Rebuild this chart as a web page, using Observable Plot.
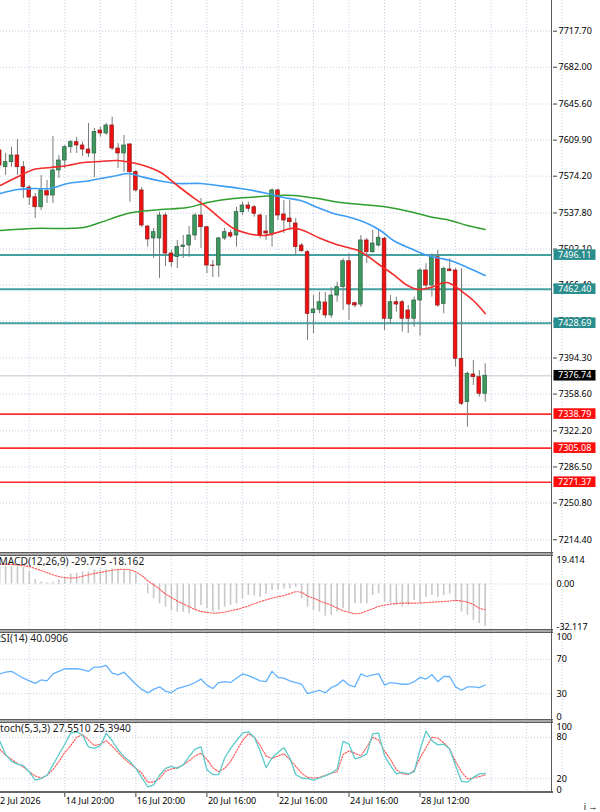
<!DOCTYPE html>
<html>
<head>
<meta charset="utf-8">
<script src="https://cdn.jsdelivr.net/npm/d3@7"></script>
<script src="https://cdn.jsdelivr.net/npm/@observablehq/plot@0.6"></script>
<style>
  html, body { margin: 0; padding: 0; background: #fff; }
  #chart { position: relative; width: 600px; height: 812px; overflow: hidden; background: #fff;
           font-family: 'Noto Sans', 'Liberation Sans', sans-serif; }
  #chart > svg { position: absolute; left: 0; }
  .sep { position: absolute; left: 0; width: 553px; box-sizing: border-box;
         border-top: 1px solid #5c5c5c; border-bottom: 1px solid #5c5c5c; background: #a9a9a9; }
</style>
</head>
<body>
<div id="chart"></div>
<script>
// ---- 4H price bars (open, high, low, close) ----
const open  = [7599.6,7583.1,7588.1,7594.7,7583.1,7563.0,7553.4,7543.5,7559.4,7555.1,
               7579.9,7589.7,7602.9,7607.9,7604.6,7600.6,7596.7,7619.4,7616.5,7624.4,
               7601.6,7596.7,7605.6,7578.2,7560.1,7524.4,7512.6,7512.6,7535.3,7497.7,
               7494.1,7504.0,7505.6,7515.5,7535.3,7523.7,7485.8,7485.8,7512.6,7517.8,
               7515.5,7538.6,7545.2,7543.5,7535.3,7519.5,7517.2,7560.1,7536.3,7532.3,
               7527.4,7505.6,7499.0,7438.6,7442.0,7449.2,7436.4,7456.1,7464.4,7490.1,
               7448.5,7447.2,7510.6,7499.0,7505.6,7512.3,7433.1,7449.5,7449.5,7441.3,
               7433.1,7451.2,7480.9,7466.0,7494.0,7447.9,7481.9,7480.9,7393.5,7350.6,
               7378.0,7375.3,7358.9];
const high  = [7601.6,7596.7,7602.9,7610.5,7588.7,7565.0,7557.1,7574.9,7570.0,7613.5,
               7594.7,7604.6,7609.5,7612.5,7607.9,7626.4,7621.4,7622.7,7626.4,7632.6,
               7606.6,7614.5,7606.6,7579.9,7563.0,7525.4,7522.5,7538.6,7537.6,7500.7,
               7510.6,7515.5,7524.4,7537.3,7552.1,7524.4,7490.8,7513.8,7522.5,7520.5,
               7543.5,7548.5,7548.5,7545.2,7537.0,7535.3,7561.7,7561.7,7550.2,7550.2,
               7532.3,7507.6,7500.7,7456.1,7459.4,7459.1,7464.0,7469.3,7492.5,7497.4,
               7449.5,7515.5,7512.6,7520.5,7520.5,7513.8,7456.1,7454.4,7451.2,7446.2,
               7454.5,7482.6,7487.5,7497.4,7500.7,7484.2,7492.5,7482.6,7482.6,7380.3,
               7391.8,7381.9,7388.6];
const low   = [7581.8,7574.9,7583.1,7574.9,7552.1,7545.2,7532.3,7540.3,7547.2,7547.2,
               7571.9,7581.8,7596.7,7596.7,7593.7,7592.7,7572.9,7612.8,7614.5,7599.6,
               7581.8,7578.2,7548.5,7558.4,7523.7,7504.0,7492.8,7473.0,7484.8,7484.2,
               7482.9,7492.8,7493.8,7510.6,7502.7,7477.9,7474.0,7474.0,7510.6,7512.6,
               7504.0,7535.3,7538.6,7533.6,7512.3,7510.6,7504.0,7530.4,7517.5,7520.5,
               7495.7,7499.0,7411.6,7418.6,7438.0,7433.4,7433.4,7449.5,7441.3,7431.4,
               7444.0,7444.3,7487.8,7498.0,7504.0,7421.6,7428.0,7439.6,7420.0,7418.6,
               7424.6,7416.0,7462.8,7454.5,7444.6,7438.0,7479.6,7385.2,7347.3,7325.8,
               7367.1,7355.5,7350.6];
const close = [7584.8,7588.1,7594.7,7583.1,7563.3,7553.1,7543.5,7560.1,7555.1,7579.9,
               7589.7,7602.9,7607.9,7604.6,7600.6,7596.7,7617.8,7616.5,7624.4,7601.6,
               7596.7,7604.6,7578.2,7560.1,7525.4,7511.6,7518.8,7535.3,7497.7,7489.1,
               7504.0,7505.6,7515.5,7535.3,7523.7,7485.8,7485.3,7512.6,7518.8,7514.5,
               7538.6,7545.2,7542.0,7537.0,7515.5,7517.5,7560.1,7535.3,7530.4,7528.7,
               7504.0,7500.0,7438.0,7442.3,7449.5,7436.4,7456.1,7464.4,7490.1,7447.2,
               7446.3,7510.6,7499.0,7507.6,7513.3,7433.1,7449.5,7447.2,7433.1,7433.1,
               7451.2,7480.9,7466.0,7494.0,7446.2,7482.6,7480.2,7393.5,7349.0,7378.7,
               7375.3,7358.9,7376.74];

// ---- moving averages (bar index, price) ----
const maRedIdx   = [0.1,3.5,5.7,8.6,11.5,14.2,17,19.9,22.1,24.3,27.2,30,32.7,35.1,37.3,39.5,41.9,44.6,46.9,49.1,50.8,54.2,56.4,58.1,60.9,64.3,66.5,68.9,70.6,72.8,74.5,75.6,76.7,78.3,80,82];
const maRedVal   = [7565.0,7574.9,7580.8,7582.8,7584.8,7587.8,7588.8,7589.7,7587.8,7584.8,7577.9,7565.0,7553.1,7543.2,7532.3,7522.5,7517.5,7515.5,7518.5,7522.5,7521.5,7512.5,7507.6,7504.6,7499.7,7485.8,7476.9,7466.0,7462.1,7464.0,7468.0,7469.0,7466.0,7459.1,7451.2,7438.3];
const maBlueIdx  = [0.1,3,5.7,8.6,11.5,14.2,17,19.9,21.8,23.8,26.7,30,33.9,36.8,40.7,45.2,47.9,50.8,53.7,56.4,59.2,62.1,64.3,66.5,69.4,72.3,74.5,76.1,79,82];
const maBlueVal  = [7557.1,7561.0,7562.0,7562.0,7567.0,7568.9,7571.9,7574.9,7576.9,7573.9,7570.0,7567.0,7567.0,7565.0,7562.0,7557.1,7553.1,7550.2,7543.2,7537.3,7533.3,7527.4,7520.5,7510.6,7502.7,7495.7,7492.8,7490.8,7483.9,7475.9];
const maGreenIdx = [0.1,5.7,11.5,14.2,17,19.9,21.6,23.8,27.2,31.7,35.1,39.5,44,46.9,49.6,53.7,56.4,59.2,64.8,67.7,70.6,73.3,76.1,79,82];
const maGreenVal = [7520.5,7522.5,7522.5,7523.4,7528.4,7534.3,7537.3,7539.3,7541.2,7543.2,7548.2,7552.1,7554.1,7555.1,7555.1,7552.1,7549.2,7547.2,7544.2,7541.2,7537.3,7533.3,7530.4,7525.4,7521.5];

// ---- horizontal levels ----
const resistance = [7496.11, 7462.40, 7428.69];
const support    = [7338.79, 7305.08, 7271.37];
const lastPrice  = close[close.length - 1];

// ---- indicators, one value per bar ----
const macd = [12,12.5,12,12,11.5,9,3,1.5,0.8,1.2,2.8,5,7,7.5,8.5,8.5,10,9.8,10.1,10.8,
              10.2,10,9.5,7,0,-7,-10.5,-14,-16.3,-18.6,-19.8,-20,-21,-18.6,-15.1,-17.4,-19.8,-18.6,-16.3,-15.1,
              -14,-10.5,-8.1,-8.5,-9.3,-7,-4.7,-4.2,-3.5,-3.5,-2.3,-10.5,-16.3,-18.6,-19.8,-22.8,-22.1,-19.8,-17.4,-19.8,
              -14,-14,-14,-8.1,-7,-12.8,-14,-15.1,-16.3,-15.1,-11.6,-14,-9.3,-8.1,-9.3,-8.1,-7,-12.8,-19.8,-22.1,
              -25.6,-27.9,-29.775];
const macdSignal = [14,14,13.8,13.4,12.9,12.3,11,9.5,8,6.5,5.3,4.5,4.2,4.5,5.5,6.5,7.5,8.1,9,9.7,
              10.2,10.4,10,8.5,6,2.3,-0.5,-3.5,-7,-9.5,-12,-14,-16,-18,-19.3,-20,-20.5,-20.4,-19.8,-18.9,
              -18,-16.8,-15.5,-14,-12.5,-11.2,-10,-9,-8.1,-6.8,-5.5,-6,-8.5,-10,-11.8,-13.5,-15,-17,-18.8,-20,
              -21,-20.5,-19,-17.5,-15.8,-15,-14.3,-13.7,-13.5,-13.5,-13.5,-13.4,-13.1,-12.8,-12.6,-12.4,-12,-11.6,-12,-12.8,
              -14.5,-17,-18.162];
const macdMax = 19.414, macdMin = -32.117;

const rsi = [53,55,56,52,48,45,42,46,45,53,56,59,59,59,58,56,61,61,63,54,
             52,55,48,41,35,31,35,38,33,31,36,38,40,43,47,40,36,43,44,43,
             48,53,51,48,45,44,56,49,48,45,43,41,30,32,34,31,37,40,46,40,
             38,53,50,52,53,40,43,42,41,41,44,49,47,52,44,50,50,38,34,38,
             38,37,40.0906];

const stochK = [75,55,45,41,39,30,18,20,25,40,55,70,86,88,83,66,64,68,86,75,
                62,52,45,35,22,8,11,25,35,38,35,40,52,63,66,33,26,26,50,64,
                75,86,88,80,60,36,50,58,65,50,26,21,20,18,21,24,28,34,74,70,
                49,51,56,85,86,53,39,27,29,27,30,62,89,75,69,70,63,39,16,15,
                22,27,27.551];
const stochD = [63,54,48,42,37,30,24,21,25,33,45,58,68,80,84,76,68,70,75,67,
                58,49,42,35,28,15,15,20,31,34,36,40,46,53,57,48,36,30,35,45,
                60,75,85,80,68,53,49,53,56,48,38,28,22,21,22,25,28,30,55,60,
                57,53,66,80,76,60,48,33,27,26,32,50,65,80,79,72,63,45,30,20,
                21,23,25.394];

// ---- axis labels ----
const priceTicks = [7717.70,7682.00,7645.60,7609.90,7574.20,7537.80,7502.10,7466.40,
                    7430.70,7394.30,7358.60,7322.20,7286.50,7250.80,7214.40];
const dateIdx    = [-1, 11, 23, 35, 47, 59, 71];
const dateLabels = ["12 Jul 2026","14 Jul 20:00","16 Jul 20:00","20 Jul 16:00",
                    "22 Jul 16:00","24 Jul 16:00","28 Jul 12:00"];

// ---- layout ----
const W = 600, FRAME_RIGHT = 552;
const barStep = 5.921, firstBarX = -0.83;
const xDomain = [(0 - firstBarX) / barStep, (FRAME_RIGHT - firstBarX) / barStep];
const gridIdx = d3.range(-1, 96, 6);
const GRID = "#c3cfe2";
const DOT = "1,2";
const FONT = "'Noto Sans', 'Liberation Sans', sans-serif";
const style = {fontFamily: FONT, fontSize: "9px", color: "#000", background: "transparent", overflow: "visible"};
const TITLE_SIZE = 10.2;

const candles = open.map((o, i) => ({i, o, h: high[i], l: low[i], c: close[i]}));
const up = candles.filter(d => d.c > d.o);
const down = candles.filter(d => d.c <= d.o);
const pts = (idx, val) => idx.map((i, k) => ({i, v: val[k]}));
const series = arr => arr.map((v, i) => ({i, v}));

const base = {width: W, marginLeft: 0, marginRight: W - FRAME_RIGHT, marginTop: 0, marginBottom: 0, style};
const xOpt = {domain: xDomain, axis: null};
const vGrid = () => Plot.ruleX(gridIdx, {stroke: GRID, strokeDasharray: DOT});

// coloured price tags in the right margin
function priceTags(tags) {
  return (index, scales, values, dimensions) => {
    const g = d3.create("svg:g").attr("text-anchor", "start");
    const x0 = dimensions.width - dimensions.marginRight;
    for (const t of tags) {
      const y = scales.y(t.value);
      g.append("rect").attr("x", x0 + 1.5).attr("y", y - 5.3).attr("width", 42).attr("height", 10.6).attr("fill", t.fill);
      g.append("text").attr("x", x0 + 6).attr("y", y).attr("dy", "0.35em").attr("text-anchor", "start")
        .attr("fill", "#fff").attr("font-size", 9).attr("font-family", FONT).text(t.value.toFixed(2));
    }
    return g.node();
  };
}

// value labels on the right edge of an indicator window
function edgeLabels(items) {
  return items.map(([v, txt, anchor]) =>
    Plot.text([v], {y: d => d, text: () => txt, frameAnchor: "right", dx: 4, textAnchor: "start",
                    lineAnchor: anchor, fill: "#000"}));
}

// indicator name and latest values in the window's top-left corner
function title(txt, dx, dy) {
  return Plot.text([txt], {frameAnchor: "top-left", dx, dy, lineAnchor: "top", textAnchor: "start",
                           fill: "#1a1a1a", fontSize: TITLE_SIZE});
}

const chart = document.getElementById("chart");
function place(node, top) { node.style.top = top + "px"; chart.appendChild(node); }

try {
  // main price window
  const main = Plot.plot({
    ...base, height: 552,
    x: xOpt,
    y: {domain: [7201.81, 7748.08], axis: null},
    marks: [
      vGrid(),
      Plot.ruleY(priceTicks, {stroke: GRID, strokeDasharray: DOT}),
      Plot.ruleY([lastPrice], {stroke: "#d3d9e1", strokeWidth: 1.6}),
      Plot.ruleY(resistance, {stroke: "#43a1a1", strokeWidth: 2}),
      Plot.ruleY(support, {stroke: "#ff2b2b", strokeWidth: 1.6}),
      Plot.ruleX(candles, {x: "i", y1: "l", y2: "h", stroke: "#7a7a7a", strokeWidth: 1}),
      Plot.rect(up, {x1: d => d.i - 0.31, x2: d => d.i + 0.31, y1: "o", y2: "c", fill: "#3c9a60", stroke: "#2b5e3d", strokeWidth: 0.7}),
      Plot.rect(down, {x1: d => d.i - 0.31, x2: d => d.i + 0.31, y1: "o", y2: "c", fill: "#f01010", stroke: "#8a1c1c", strokeWidth: 0.7}),
      Plot.line(pts(maGreenIdx, maGreenVal), {x: "i", y: "v", stroke: "#2f9e2f", strokeWidth: 1.5, curve: "catmull-rom"}),
      Plot.line(pts(maBlueIdx, maBlueVal), {x: "i", y: "v", stroke: "#3d9df5", strokeWidth: 1.6, curve: "catmull-rom"}),
      Plot.line(pts(maRedIdx, maRedVal), {x: "i", y: "v", stroke: "#f52a2a", strokeWidth: 1.6, curve: "catmull-rom"}),
      Plot.axisY({anchor: "right", ticks: priceTicks, tickFormat: d => d.toFixed(2), tickSize: 4, tickPadding: 2,
                  stroke: "#404040", fill: "#000"}),
      priceTags([
        ...resistance.map(value => ({value, fill: "#2a8d8d"})),
        {value: lastPrice, fill: "#000"},
        ...support.map(value => ({value, fill: "#ff0d0d"}))
      ])
    ]
  });
  place(main, 0);

  // MACD window
  const macdPlot = Plot.plot({
    ...base, height: 73,
    x: xOpt,
    y: {domain: [macdMin, macdMax], axis: null},
    marks: [
      vGrid(),
      Plot.ruleY([0], {stroke: GRID, strokeDasharray: DOT}),
      Plot.ruleX(series(macd), {x: "i", y1: 0, y2: "v", stroke: "#c8c8c8", strokeWidth: 1.6}),
      Plot.line(series(macdSignal), {x: "i", y: "v", stroke: "#ff5252", strokeWidth: 1.1, strokeDasharray: "1.5,1.5", curve: "catmull-rom"}),
      title(`MACD(12,26,9) ${macd.at(-1).toFixed(3)} ${macdSignal.at(-1).toFixed(3)}`, -2, 1.5),
      ...edgeLabels([[macdMax, macdMax.toFixed(3), "top"], [0, "0.00", "middle"], [macdMin, macdMin.toFixed(3), "bottom"]])
    ]
  });
  place(macdPlot, 556);

  // RSI window
  const rsiPlot = Plot.plot({
    ...base, height: 86,
    x: xOpt,
    y: {domain: [0, 100], axis: null},
    marks: [
      vGrid(),
      Plot.ruleY([70, 30], {stroke: GRID, strokeDasharray: DOT}),
      Plot.line(series(rsi), {x: "i", y: "v", stroke: "#62b1ff", strokeWidth: 1.3}),
      title(`RSI(14) ${rsi.at(-1).toFixed(4)}`, -6, 1.5),
      ...edgeLabels([[100, "100", "top"], [70, "70", "middle"], [30, "30", "middle"], [0, "0", "bottom"]])
    ]
  });
  place(rsiPlot, 633);

  // Stochastic window with the time axis
  const dateTicks = dateIdx.map((i, k) => ({i, label: dateLabels[k]}));
  const stochPlot = Plot.plot({
    ...base, height: 89, marginBottom: 20,
    x: xOpt,
    y: {domain: [0, 100], axis: null},
    marks: [
      vGrid(),
      Plot.ruleY([80, 20], {stroke: GRID, strokeDasharray: DOT}),
      Plot.line(series(stochD), {x: "i", y: "v", stroke: "#ff5252", strokeWidth: 1.1, strokeDasharray: "1.5,1.5"}),
      Plot.line(series(stochK), {x: "i", y: "v", stroke: "#5ccaca", strokeWidth: 1.3}),
      title(`Stoch(5,3,3) ${stochK.at(-1).toFixed(4)} ${stochD.at(-1).toFixed(4)}`, -6, 1.5),
      ...edgeLabels([[100, "100", "top"], [80, "80", "middle"], [20, "20", "middle"], [0, "0", "bottom"]]),
      Plot.axisX({ticks: dateIdx, tickFormat: () => "", tickSize: 5, stroke: "#404040"}),
      Plot.text(dateTicks, {x: "i", text: "label", frameAnchor: "bottom", dx: 1, dy: 5,
                            textAnchor: "start", lineAnchor: "top", fill: "#000"})
    ]
  });
  place(stochPlot, 723);

  // window separators and the price-scale edge
  for (const top of [552, 629, 719]) {
    const s = document.createElement("div");
    s.className = "sep"; s.style.top = top + "px"; s.style.height = "4px";
    chart.appendChild(s);
  }
  const bottom = document.createElement("div");
  Object.assign(bottom.style, {position: "absolute", left: "0", top: "791px", width: "553px", height: "2px", background: "#666"});
  chart.appendChild(bottom);
  const edge = document.createElement("div");
  Object.assign(edge.style, {position: "absolute", left: "551px", top: "0", width: "1px", height: "793px", background: "#5c5c5c"});
  chart.appendChild(edge);
} catch (e) {
  chart.textContent = "Error: " + e.message;
}
</script>
</body>
</html>
